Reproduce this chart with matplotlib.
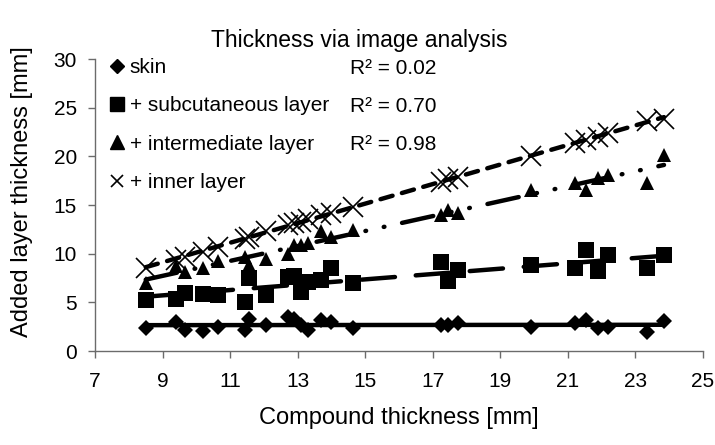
import numpy as np
import matplotlib
matplotlib.use("Agg")
import matplotlib.pyplot as plt
from matplotlib.lines import Line2D

plt.rcParams["font.family"] = ["Liberation Sans", "DejaVu Sans"]
plt.rcParams["lines.scale_dashes"] = False

# compound thickness of each sample [mm]
compound = np.array([8.5, 9.4, 9.65, 10.2, 10.65, 11.45, 11.55, 12.05, 12.7, 12.9,
                     13.1, 13.3, 13.7, 14.0, 14.65, 17.25, 17.45, 17.75, 19.9, 21.2,
                     21.55, 21.9, 22.2, 23.35, 23.85])

# cumulative layer thickness [mm]
skin = np.array([2.35, 3.0, 2.2, 2.1, 2.5, 2.2, 3.25, 2.65, 3.55, 3.25,
                 2.65, 2.2, 3.2, 3.0, 2.35, 2.65, 2.65, 2.85, 2.5, 2.85,
                 3.2, 2.35, 2.5, 2.0, 3.1])
subcutaneous = np.array([5.25, 5.4, 6.0, 5.9, 5.75, 5.0, 7.5, 5.75, 7.65, 7.7,
                         6.1, 7.1, 7.3, 8.5, 7.0, 9.2, 7.2, 8.3, 8.85, 8.5,
                         10.4, 8.2, 9.9, 8.5, 9.9])
intermediate = np.array([7.0, 8.7, 8.15, 8.5, 9.3, 9.7, 8.85, 9.5, 10.0, 10.9,
                         10.9, 11.1, 12.3, 11.75, 12.4, 14.0, 14.5, 14.2, 16.6, 17.25,
                         16.6, 17.8, 18.1, 17.25, 20.2])
inner = np.array([8.5, 9.4, 9.7, 10.2, 10.65, 11.5, 11.75, 12.3, 12.95, 13.2,
                  13.3, 13.6, 14.0, 14.2, 14.85, 17.4, 17.7, 17.9, 20.0, 21.4,
                  21.7, 22.0, 22.4, 23.6, 23.9])

labels = ["skin", "+ subcutaneous layer", "+ intermediate layer", "+ inner layer"]
r2_labels = ["R\u00b2 = 0.02", "R\u00b2 = 0.70", "R\u00b2 = 0.98"]
x_ticks = np.arange(7, 26, 2)
y_ticks = np.arange(0, 31, 5)

AXIS = "#6b6b6b"

fig = plt.figure(figsize=(7.15, 4.45), dpi=100)
ax = fig.add_axes([0.133, 0.211, 0.850, 0.656])

series = [
    (skin, "D", 8, 0, None),
    (subcutaneous, "s", 11, 0, (24, 15)),
    (intermediate, "^", 10.5, 0, (23, 13, 0.5, 13, 0.5, 13)),
    (inner, "x", 15, 1.2, (9, 7)),
]

for vals, mk, ms, mew, dashes in series:
    ax.plot(compound, vals, linestyle="none", marker=mk, markersize=ms,
            markeredgewidth=mew, color="black", zorder=3)
    coef = np.polyfit(compound, vals, 1)
    xs = np.array([compound.min(), compound.max()])
    kw = dict(color="black", linewidth=3.2, zorder=4,
              solid_capstyle="round", dash_capstyle="round")
    if dashes is not None:
        ax.plot(xs, np.polyval(coef, xs), dashes=dashes, **kw)
    else:
        ax.plot(xs, np.polyval(coef, xs), linestyle="-", **kw)

ax.set_xlim(7, 25)
ax.set_ylim(0, 30)
ax.set_xticks(x_ticks)
ax.set_yticks(y_ticks)
ax.tick_params(labelsize=15, colors=AXIS, labelcolor="black", length=5,
               width=1, direction="out")
ax.tick_params(axis="x", pad=10)
ax.tick_params(axis="y", pad=8)
for side in ("top", "right"):
    ax.spines[side].set_visible(False)
for side in ("left", "bottom"):
    ax.spines[side].set_color(AXIS)
    ax.spines[side].set_linewidth(1)

handles = [
    Line2D([], [], linestyle="none", marker="D", markersize=7, color="black"),
    Line2D([], [], linestyle="none", marker="s", markersize=10, color="black"),
    Line2D([], [], linestyle="none", marker="^", markersize=9.5, color="black"),
    Line2D([], [], linestyle="none", marker="x", markersize=8, markeredgewidth=1.2,
           color="black"),
]
ax.legend(handles, labels, loc="upper left", bbox_to_anchor=(110 / 715, 1 - 58 / 445),
          bbox_transform=fig.transFigure, frameon=False, fontsize=15,
          handlelength=0.7, handletextpad=0.25, labelspacing=0.93,
          borderpad=0, borderaxespad=0)

for i, txt in enumerate(r2_labels):
    fig.text(350 / 715, 1 - (68 + 38.3 * i) / 445, txt, fontsize=15,
             ha="left", va="center")

fig.text(0.503, 1 - 40 / 445, "Thickness via image analysis", fontsize=16.5,
         ha="center", va="center")
fig.text(399 / 715, 1 - 418 / 445, "Compound thickness [mm]", fontsize=17,
         ha="center", va="center")
fig.text(22 / 715, 1 - 192 / 445, "Added layer thickness [mm]", fontsize=17,
         ha="center", va="center", rotation=90)

fig.savefig("out.png", dpi=100)
